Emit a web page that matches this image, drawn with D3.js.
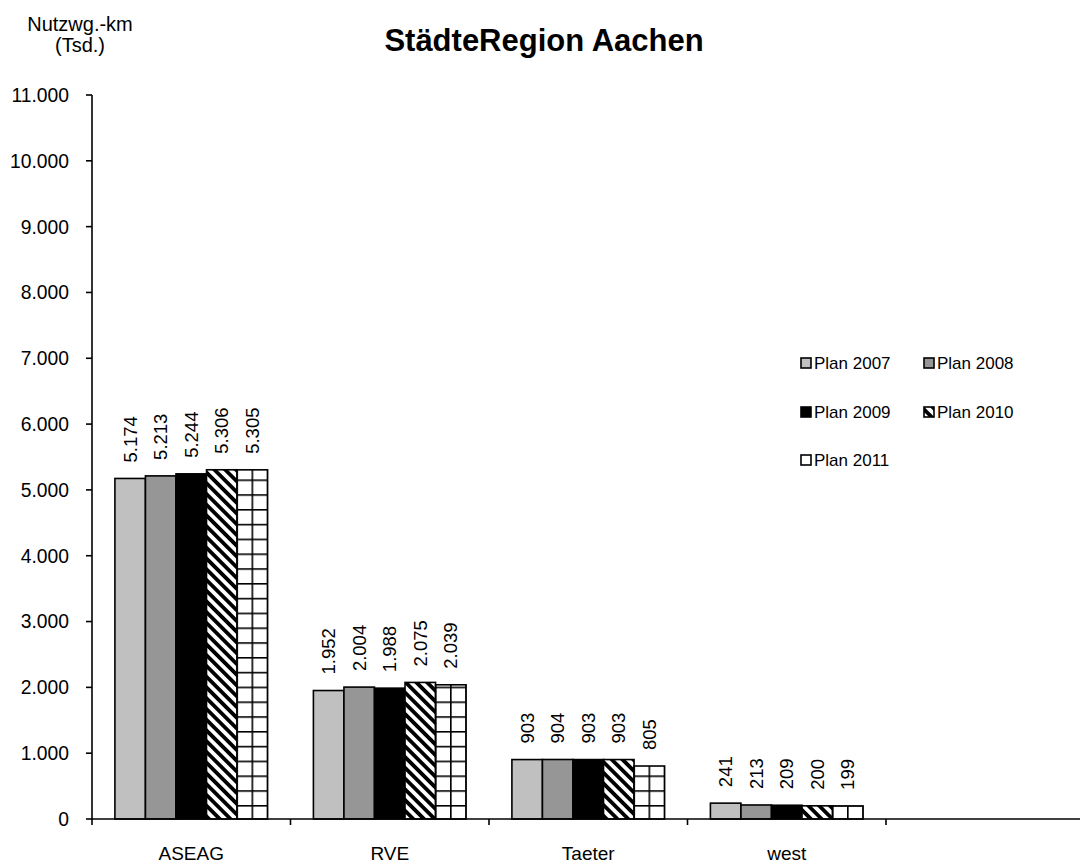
<!DOCTYPE html>
<html>
<head>
<meta charset="utf-8">
<script src="https://cdn.jsdelivr.net/npm/d3@7"></script>
<style>
  html, body { margin: 0; padding: 0; background: #fff; }
  svg { display: block; font-family: "Liberation Sans", Arial, sans-serif; }
</style>
</head>
<body>
<svg id="chart" width="1080" height="864"></svg>
<script>
// Operators and planning years
const categories = ["ASEAG", "RVE", "Taeter", "west"];
const seriesNames = ["Plan 2007", "Plan 2008", "Plan 2009", "Plan 2010", "Plan 2011"];

// Nutzwagen-km in thousands, one array per operator (order as seriesNames)
const aseag  = [5174, 5213, 5244, 5306, 5305];
const rve    = [1952, 2004, 1988, 2075, 2039];
const taeter = [903, 904, 903, 903, 805];
const west   = [241, 213, 209, 200, 199];

const yTicks = [0, 1000, 2000, 3000, 4000, 5000, 6000, 7000, 8000, 9000, 10000, 11000];

const rows = [aseag, rve, taeter, west];

const de = d3.formatLocale({ decimal: ",", thousands: ".", grouping: [3], currency: ["", " €"] });
const fmt = de.format(",d");

const svg = d3.select("#chart");
const left = 92, zeroY = 819, topY = 95;
const slots = categories.length + 1;              // one empty slot on the right
const bandW = 198.5;

const x = d3.scaleBand()
  .domain(categories.concat(["\u00a0"]))
  .range([left, left + slots * bandW])
  .paddingInner(0).paddingOuter(0);

const inner = d3.scaleBand()
  .domain(seriesNames)
  .range([0, x.bandwidth()])
  .paddingOuter(0.75).paddingInner(0);

const y = d3.scaleLinear().domain([0, 11000]).range([zeroY, topY]);

// ----- fills -----
const defs = svg.append("defs");
const diag = defs.append("pattern")
  .attr("id", "diag")
  .attr("patternUnits", "userSpaceOnUse")
  .attr("width", 7.6).attr("height", 7.6)
  .attr("patternTransform", "rotate(-45)");
diag.append("rect").attr("width", 7.6).attr("height", 7.6).attr("fill", "#fff");
diag.append("rect").attr("width", 3.8).attr("height", 7.6).attr("fill", "#000");

function gridPattern(id, x0, y0, w, h) {
  const p = defs.append("pattern")
    .attr("id", id)
    .attr("patternUnits", "userSpaceOnUse")
    .attr("x", x0).attr("y", y0)
    .attr("width", w).attr("height", h);
  p.append("rect").attr("width", w).attr("height", h).attr("fill", "#fff");
  p.append("rect").attr("width", 1.6).attr("height", h).attr("fill", "#000");
  p.append("rect").attr("width", w).attr("height", 1.6).attr("fill", "#000");
}

const fills = ["#c0c0c0", "#969696", "#000000", "url(#diag)", "grid"];

// ----- bars -----
const data = [];
categories.forEach((c, ci) => {
  seriesNames.forEach((s, si) => {
    data.push({ cat: c, series: s, si, value: rows[ci][si] });
  });
});

data.forEach((d, i) => {
  if (d.si === 4) {
    const bx = x(d.cat) + inner(d.series);
    gridPattern("grid" + i, bx - 0.8, zeroY + 0.8, inner.bandwidth() / 2, 14.8);
    d.fill = "url(#grid" + i + ")";
  } else {
    d.fill = fills[d.si];
  }
});

svg.append("g").selectAll("rect")
  .data(data)
  .join("rect")
  .attr("x", d => x(d.cat) + inner(d.series))
  .attr("y", d => y(d.value))
  .attr("width", inner.bandwidth())
  .attr("height", d => zeroY - y(d.value))
  .attr("fill", d => d.fill)
  .attr("stroke", "#000")
  .attr("stroke-width", 1.6);

// value labels, rotated
svg.append("g").selectAll("text")
  .data(data)
  .join("text")
  .attr("transform", d => `translate(${x(d.cat) + inner(d.series) + inner.bandwidth() / 2},${y(d.value) - 16}) rotate(-90)`)
  .attr("dy", "0.35em")
  .attr("text-anchor", "start")
  .attr("font-size", 18.5)
  .attr("fill", "#000")
  .text(d => fmt(d.value));

// ----- y axis -----
const yAxis = svg.append("g");
yAxis.append("line")
  .attr("x1", left).attr("x2", left)
  .attr("y1", y(11000)).attr("y2", zeroY)
  .attr("stroke", "#000").attr("stroke-width", 1.6);
yAxis.selectAll("line.tick")
  .data(yTicks)
  .join("line")
  .attr("class", "tick")
  .attr("x1", left - 6).attr("x2", left)
  .attr("y1", d => y(d)).attr("y2", d => y(d))
  .attr("stroke", "#000").attr("stroke-width", 1.6);
yAxis.selectAll("text")
  .data(yTicks)
  .join("text")
  .attr("x", 69)
  .attr("y", d => y(d))
  .attr("dy", "0.36em")
  .attr("text-anchor", "end")
  .attr("font-size", 19.3)
  .text(d => fmt(d));

// ----- x axis -----
const xAxis = svg.append("g");
xAxis.append("line")
  .attr("x1", left).attr("x2", 1080)
  .attr("y1", zeroY).attr("y2", zeroY)
  .attr("stroke", "#000").attr("stroke-width", 1.6);
xAxis.selectAll("line.tick")
  .data(x.domain())
  .join("line")
  .attr("class", "tick")
  .attr("x1", d => x(d)).attr("x2", d => x(d))
  .attr("y1", zeroY).attr("y2", zeroY + 6)
  .attr("stroke", "#000").attr("stroke-width", 1.6);
xAxis.selectAll("text")
  .data(categories)
  .join("text")
  .attr("x", d => x(d) + x.bandwidth() / 2)
  .attr("y", 860)
  .attr("text-anchor", "middle")
  .attr("font-size", 19)
  .text(d => d);

// ----- titles -----
svg.append("text")
  .attr("x", 544).attr("y", 51)
  .attr("text-anchor", "middle")
  .attr("font-size", 31)
  .attr("font-weight", "bold")
  .text("StädteRegion Aachen");

const unit = svg.append("text")
  .attr("text-anchor", "middle")
  .attr("font-size", 20);
unit.append("tspan").attr("x", 80).attr("y", 31).text("Nutzwg.-km");
unit.append("tspan").attr("x", 80).attr("y", 52).text("(Tsd.)");

// ----- legend -----
const legendPos = [
  [801, 363], [924, 363],
  [801, 412], [924, 412],
  [801, 460]
];
const legend = svg.append("g").selectAll("g")
  .data(seriesNames)
  .join("g")
  .attr("transform", (d, i) => `translate(${legendPos[i][0]},${legendPos[i][1]})`);
legend.append("rect")
  .attr("x", 0).attr("y", -5)
  .attr("width", 10).attr("height", 10)
  .attr("fill", (d, i) => i === 4 ? "#fff" : fills[i])
  .attr("stroke", "#000").attr("stroke-width", 1.6);
legend.append("text")
  .attr("x", 13).attr("y", 0)
  .attr("dy", "0.36em")
  .attr("font-size", 17)
  .text(d => d);
</script>
</body>
</html>
